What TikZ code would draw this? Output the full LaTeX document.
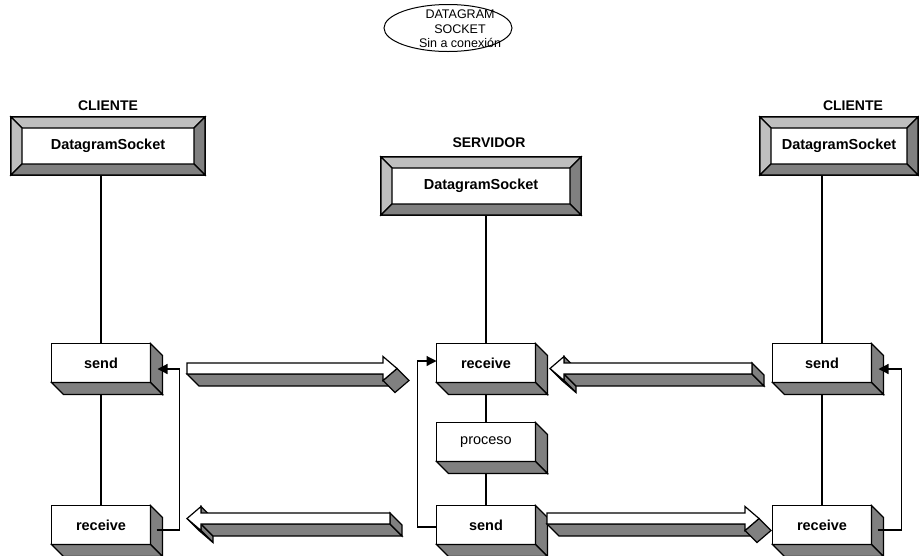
\documentclass[tikz,border=0pt]{standalone}
\usepackage{fontspec}
\setmainfont{Liberation Sans}
\usetikzlibrary{calc,shapes.geometric,arrows.meta,backgrounds}

\definecolor{grisclaro}{gray}{0.75}
\definecolor{grisoscuro}{gray}{0.5}

\tikzset{
  linea/.style={line width=1.2pt, line join=miter},
  caja/.style={linea, draw, fill=white, minimum width=99pt, minimum height=39pt, inner sep=0pt, outer sep=0pt, font=\fontsize{14.5}{16}\selectfont\bfseries},
  marco/.style={linea, draw, fill=white, minimum height=58pt, inner sep=0pt, outer sep=0pt, font=\fontsize{14.5}{16}\selectfont\bfseries},
  rotulo/.style={font=\fontsize{14}{16}\selectfont\bfseries},
  retorno/.style={linea, -{Triangle[length=10pt,width=10pt]}},
}

% caras laterales de una caja
\def\fondo#1{%
  \draw[linea, fill=grisoscuro] (#1.north east) -- ++(12,12) -- ($(#1.south east)+(12,12)$) -- (#1.south east) -- cycle;
  \draw[linea, fill=grisoscuro] (#1.south west) -- ($(#1.south west)+(12,12)$) -- ($(#1.south east)+(12,12)$) -- (#1.south east) -- cycle;}

% bisel de los marcos DatagramSocket
\def\bisel#1{%
  \draw[linea, fill=grisclaro] (#1.north west) -- (#1.north east) -- ($(#1.north east)+(-11,11)$) -- ($(#1.north west)+(11,11)$) -- cycle;
  \draw[linea, fill=grisclaro] (#1.north west) -- ($(#1.north west)+(11,11)$) -- ($(#1.south west)+(11,-11)$) -- (#1.south west) -- cycle;
  \draw[linea, fill=grisoscuro] (#1.north east) -- (#1.south east) -- ($(#1.south east)+(-11,-11)$) -- ($(#1.north east)+(-11,11)$) -- cycle;
  \draw[linea, fill=grisoscuro] (#1.south west) -- (#1.south east) -- ($(#1.south east)+(-11,-11)$) -- ($(#1.south west)+(11,-11)$) -- cycle;}

% flecha gruesa hacia la derecha: (inicio, punta, borde superior)
\def\flechader(#1,#2,#3){%
  \pgfmathsetmacro\hb{#2-14}\pgfmathsetmacro\yb{#3+11}\pgfmathsetmacro\ym{#3+5.5}%
  \pgfmathsetmacro\yt{#3-6.5}\pgfmathsetmacro\yh{#3+17.5}%
  \draw[linea, fill=grisoscuro] (#1,\yb) -- (\hb,\yb) -- (\hb+12,\yb+12) -- (#1+12,\yb+12) -- cycle;
  \draw[linea, fill=grisoscuro] (#2,\ym) -- (\hb,\yh) -- (\hb+12,\yh+12) -- (#2+12,\ym+12) -- cycle;
  \draw[linea, fill=white] (#1,#3) -- (\hb,#3) -- (\hb,\yt) -- (#2,\ym) -- (\hb,\yh) -- (\hb,\yb) -- (#1,\yb) -- cycle;}

% flecha gruesa hacia la izquierda: (punta, fin, borde superior)
\def\flechaizq(#1,#2,#3){%
  \pgfmathsetmacro\hb{#1+14}\pgfmathsetmacro\yb{#3+11}\pgfmathsetmacro\ym{#3+5.5}%
  \pgfmathsetmacro\yt{#3-6.5}\pgfmathsetmacro\yh{#3+17.5}%
  \draw[linea, fill=grisoscuro] (\hb,\yt) -- (\hb,#3) -- (\hb+12,#3+12) -- (\hb+12,\yt+12) -- cycle;
  \draw[linea, fill=grisoscuro] (\hb,\yb) -- (\hb,\yh) -- (\hb+12,\yh+12) -- (\hb+12,\yb+12) -- cycle;
  \draw[linea, fill=grisoscuro] (\hb,\yb) -- (#2,\yb) -- (#2+12,\yb+12) -- (\hb+12,\yb+12) -- cycle;
  \draw[linea, fill=grisoscuro] (#2,#3) -- (#2,\yb) -- (#2+12,\yb+12) -- (#2+12,#3+12) -- cycle;
  \draw[linea, fill=grisoscuro] (#1,\ym) -- (\hb,\yh) -- (\hb+12,\yh+12) -- (#1+12,\ym+12) -- cycle;
  \draw[linea, fill=white] (#2,#3) -- (\hb,#3) -- (\hb,\yt) -- (#1,\ym) -- (\hb,\yh) -- (\hb,\yb) -- (#2,\yb) -- cycle;}

\begin{document}
\begin{tikzpicture}[x=1pt, y=-1pt]
  \useasboundingbox (0,0) rectangle (919,555);

  %%%%% TITULO %%%%%
  \node[draw, ellipse, line width=1pt, minimum width=128pt, minimum height=47pt] (nube) at (448,28) {};
  \node[align=center, inner sep=0pt, font=\fontsize{12.5}{14.5}\selectfont] (titulo) at (460,29)
        {DATAGRAM\\SOCKET\\Sin a conexión};

  %%%%% SOCKETS %%%%%
  \node[rotulo] (lcli) at (108,106) {CLIENTE};
  \node[marco, minimum width=194pt] (lsock) at (108,146) {DatagramSocket};
  \bisel{lsock}

  \node[rotulo] (serv) at (489,143) {SERVIDOR};
  \node[marco, minimum width=200pt] (csock) at (481,186) {DatagramSocket};
  \bisel{csock}

  \node[rotulo] (rcli) at (853,106) {CLIENTE};
  \node[marco, minimum width=158pt] (rsock) at (839,146) {DatagramSocket};
  \bisel{rsock}

  %%%%% CAJAS %%%%%
  \node[caja] (lsend) at (101,363) {send};
  \node[caja] (lrecv) at (101,525) {receive};
  \node[caja] (crecv) at (486,363) {receive};
  \node[caja, font=\fontsize{14.5}{16}\selectfont] (proc) at (486,442) {proceso};
  \node[caja] (csend) at (486,525) {send};
  \node[caja] (rsend) at (822,363) {send};
  \node[caja] (rrecv) at (822,525) {receive};
  \fondo{lsend} \fondo{lrecv}
  \fondo{crecv} \fondo{proc} \fondo{csend}
  \fondo{rsend} \fondo{rrecv}

  %%%%% LINEAS %%%%%
  \begin{scope}[on background layer]
    \draw[linea] (lsend.north |- lsock.south) -- (lsend.north);
    \draw[linea] (lsend.south) -- (lrecv.north);
    \draw[linea] (crecv.north |- csock.south) -- (crecv.north);
    \draw[linea] (crecv.south) -- (proc.north);
    \draw[linea] (proc.south) -- (csend.north);
    \draw[linea] (rsend.north |- rsock.south) -- (rsend.north);
    \draw[linea] (rsend.south) -- (rrecv.north);
  \end{scope}

  %%%%% RETORNOS %%%%%
  \draw[retorno] ($(lrecv.east)+(6,5)$) -- ++(23,0) |- ($(lsend.east)+(7,6)$);
  \draw[retorno] ($(csend.west)+(0,2)$) -- ++(-19,0) |- ($(crecv.west)+(0,-2)$);
  \draw[retorno] ($(rrecv.east)+(6,5)$) -- ++(24,0) |- ($(rsend.east)+(7,6)$);

  %%%%% MENSAJES %%%%%
  \flechader(187,397,363)
  \flechaizq(550,752,363)
  \flechaizq(187,390,513)
  \flechader(547,759,513)
\end{tikzpicture}
\end{document}
